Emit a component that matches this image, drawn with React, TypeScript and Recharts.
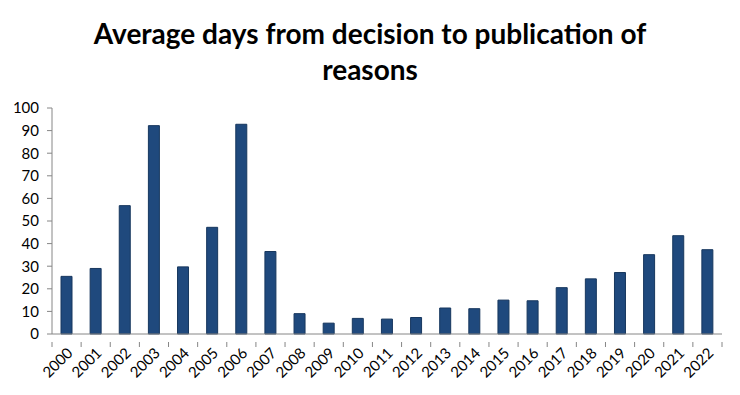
import { Bar, BarChart, XAxis, YAxis } from "recharts";

const years = [
  "2000", "2001", "2002", "2003", "2004", "2005", "2006", "2007", "2008", "2009", "2010", "2011",
  "2012", "2013", "2014", "2015", "2016", "2017", "2018", "2019", "2020", "2021", "2022",
];
const avgDays = [
  25.5, 29, 56.8, 92.2, 29.7, 47.2, 92.8, 36.5, 9, 4.8, 6.9, 6.6,
  7.3, 11.5, 11.2, 15, 14.7, 20.5, 24.4, 27.2, 35.1, 43.5, 37.3,
];
const yTicks = [0, 10, 20, 30, 40, 50, 60, 70, 80, 90, 100];

const data = years.map((year, i) => ({ year, days: avgDays[i] }));

const FONT = "Lato, 'Liberation Sans', sans-serif";
const AXIS = "#868686";

function YearTick(props: any) {
  const { x, y, payload, index, width, visibleTicksCount } = props;
  const band = width / visibleTicksCount;
  const left = x - band / 2;
  return (
    <g>
      <line x1={left} y1={y} x2={left} y2={y + 5} stroke={AXIS} />
      {index === visibleTicksCount - 1 && (
        <line x1={left + band} y1={y} x2={left + band} y2={y + 5} stroke={AXIS} />
      )}
      <text
        x={x + 7}
        y={y + 12}
        textAnchor="end"
        fontSize={15}
        fill="#000"
        fontFamily={FONT}
        transform={`rotate(-45, ${x + 7}, ${y + 12})`}
      >
        {payload.value}
      </text>
    </g>
  );
}

export default function App() {
  return (
    <div
      style={{
        position: "absolute",
        left: 0,
        top: 0,
        width: 740,
        height: 395,
        background: "#fff",
        fontFamily: FONT,
      }}
    >
      <div
        style={{
          position: "absolute",
          top: 15,
          left: 0,
          width: 740,
          textAlign: "center",
          fontWeight: 700,
          fontSize: 28,
          lineHeight: "36px",
          color: "#000",
        }}
      >
        Average days from decision to publication of
        <br />
        reasons
      </div>
      <BarChart
        width={740}
        height={395}
        data={data}
        margin={{ top: 108, right: 18, bottom: 0, left: 0 }}
        barCategoryGap={0}
      >
        <YAxis
          width={52}
          domain={[0, 100]}
          ticks={yTicks}
          interval={0}
          tickSize={5}
          tickMargin={8}
          axisLine={{ stroke: AXIS }}
          tickLine={{ stroke: AXIS }}
          tick={{ fill: "#000", fontSize: 15, fontFamily: FONT }}
        />
        <XAxis
          dataKey="year"
          height={61}
          interval={0}
          axisLine={{ stroke: AXIS }}
          tickLine={false}
          tick={<YearTick />}
        />
        <Bar
          dataKey="days"
          fill="#1F497D"
          stroke="#17375E"
          strokeWidth={1}
          barSize={11}
          isAnimationActive={false}
        />
      </BarChart>
    </div>
  );
}
